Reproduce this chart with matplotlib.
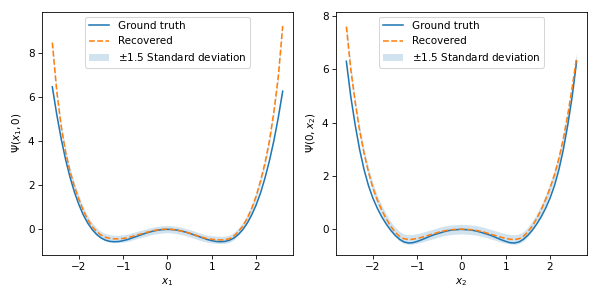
import numpy as np
import matplotlib
matplotlib.use("Agg")
import matplotlib.pyplot as plt

# sample grid of the curves
x = np.round(np.arange(-2.6, 2.61, 0.1), 1)

# left panel: Psi(x1, 0)
truth1 = [6.45, 5.2, 4.1, 3.16, 2.36, 1.68, 1.12, 0.65, 0.28, -0.01,
          -0.23, -0.39, -0.49, -0.545, -0.56, -0.55, -0.51, -0.46, -0.39, -0.32,
          -0.25, -0.18, -0.12, -0.07, -0.03, -0.01, 0.0,
          -0.01, -0.03, -0.07, -0.12, -0.18, -0.25, -0.32, -0.39, -0.46, -0.51,
          -0.55, -0.56, -0.545, -0.49, -0.39, -0.23, -0.01, 0.28, 0.65, 1.1,
          1.65, 2.32, 3.1, 4.0, 5.05, 6.25]
recovered1 = [8.45, 6.25, 4.65, 3.49, 2.62, 1.93, 1.36, 0.85, 0.44, 0.12,
              -0.1, -0.26, -0.36, -0.41, -0.43, -0.43, -0.41, -0.38, -0.32, -0.26,
              -0.21, -0.15, -0.1, -0.05, -0.02, 0.0, 0.01,
              0.0, -0.03, -0.07, -0.12, -0.18, -0.24, -0.31, -0.37, -0.42, -0.45,
              -0.47, -0.48, -0.47, -0.42, -0.3, -0.1, 0.15, 0.5, 0.95, 1.5,
              2.2, 3.0, 4.0, 5.3, 6.9, 9.2]
std1 = 0.11

# right panel: Psi(0, x2)
truth2 = [6.3, 4.98, 3.91, 2.99, 2.24, 1.64, 1.17, 0.79, 0.47, 0.2,
          -0.03, -0.22, -0.37, -0.47, -0.51, -0.5, -0.45, -0.39, -0.32, -0.25,
          -0.19, -0.14, -0.09, -0.05, -0.02, -0.01, 0.0,
          -0.01, -0.02, -0.05, -0.09, -0.14, -0.19, -0.25, -0.32, -0.39, -0.45,
          -0.5, -0.51, -0.47, -0.37, -0.22, -0.03, 0.2, 0.47, 0.79, 1.17,
          1.64, 2.24, 2.99, 3.91, 4.98, 6.3]
recovered2 = [7.6, 6.0, 4.75, 3.7, 2.85, 2.15, 1.55, 1.1, 0.72, 0.4,
              0.12, -0.1, -0.26, -0.35, -0.38, -0.37, -0.34, -0.3, -0.25, -0.2,
              -0.15, -0.1, -0.06, -0.03, -0.01, 0.0, 0.01,
              0.0, -0.01, -0.03, -0.06, -0.1, -0.15, -0.2, -0.25, -0.3, -0.34,
              -0.37, -0.38, -0.35, -0.26, -0.09, 0.13, 0.41, 0.74, 1.12, 1.55,
              2.05, 2.66, 3.4, 4.3, 5.32, 6.45]
std2 = 0.12

panels = [
    (truth1, recovered1, std1, r"$x_1$", r"$\Psi(x_1, 0)$", (-1.16, 9.85)),
    (truth2, recovered2, std2, r"$x_2$", r"$\Psi(0, x_2)$", (-0.96, 8.16)),
]
positions = [[0.0697, 0.1472, 0.4208, 0.8138],
             [0.5614, 0.1472, 0.4206, 0.8138]]

fig = plt.figure(figsize=(8, 4), dpi=74.75)
for pos, (gt, rec, sd, xl, yl, ylim) in zip(positions, panels):
    ax = fig.add_axes(pos)
    rec = np.array(rec)
    ax.plot(x, gt, color="C0", label="Ground truth")
    ax.plot(x, rec, color="C1", linestyle="--", label="Recovered")
    ax.fill_between(x, rec - 1.5 * sd, rec + 1.5 * sd, color="C0", alpha=0.2,
                    linewidth=0, label=r"$\pm$1.5 Standard deviation")
    ax.set_xlim(-2.84, 2.84)
    ax.set_ylim(*ylim)
    ax.set_xlabel(xl)
    ax.set_ylabel(yl)
    ax.legend(loc="upper center")

fig.savefig("out.png", dpi=74.75)
